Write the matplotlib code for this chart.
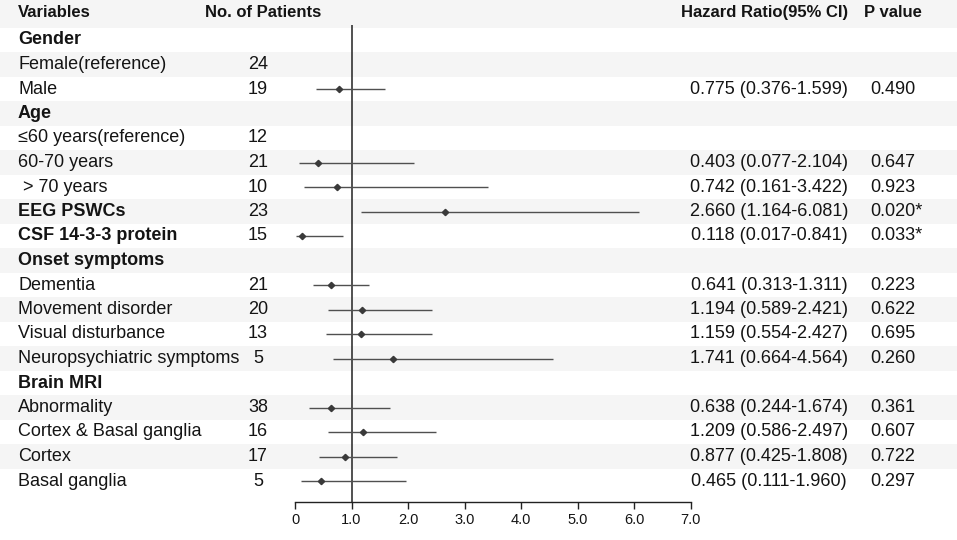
import numpy as np
import matplotlib
matplotlib.use("Agg")
import matplotlib.pyplot as plt

plt.rcParams['font.family'] = ['Liberation Sans', 'DejaVu Sans']

# Rows of the table (group headers have no count / estimate)
labels = ['Gender', 'Female(reference)', 'Male',
          'Age', '\u226460 years(reference)', '60-70 years', ' > 70 years',
          'EEG PSWCs', 'CSF 14-3-3 protein',
          'Onset symptoms', 'Dementia', 'Movement disorder', 'Visual disturbance',
          'Neuropsychiatric symptoms',
          'Brain MRI', 'Abnormality', 'Cortex & Basal ganglia', 'Cortex', 'Basal ganglia']
bold = [True, False, False,
        True, False, False, False,
        True, True,
        True, False, False, False, False,
        True, False, False, False, False]
patients = ['', '24', '19', '', '12', '21', '10', '23', '15', '',
            '21', '20', '13', '5', '', '38', '16', '17', '5']
hr = [np.nan, np.nan, 0.775, np.nan, np.nan, 0.403, 0.742, 2.660, 0.118, np.nan,
      0.641, 1.194, 1.159, 1.741, np.nan, 0.638, 1.209, 0.877, 0.465]
lo = [np.nan, np.nan, 0.376, np.nan, np.nan, 0.077, 0.161, 1.164, 0.017, np.nan,
      0.313, 0.589, 0.554, 0.664, np.nan, 0.244, 0.586, 0.425, 0.111]
hi = [np.nan, np.nan, 1.599, np.nan, np.nan, 2.104, 3.422, 6.081, 0.841, np.nan,
      1.311, 2.421, 2.427, 4.564, np.nan, 1.674, 2.497, 1.808, 1.960]
pvals = ['', '', '0.490', '', '', '0.647', '0.923', '0.020*', '0.033*', '',
         '0.223', '0.622', '0.695', '0.260', '', '0.361', '0.607', '0.722', '0.297']
xticks = [0, 1, 2, 3, 4, 5, 6, 7]
xticklabels = ['0', '1.0', '2.0', '3.0', '4.0', '5.0', '6.0', '7.0']

W, H = 957, 540
row0, rowh = 15.5, 24.5          # pixel centre of row 0 and row height
def px2row(p):
    return (p - row0) / rowh

fig = plt.figure(figsize=(W / 100, H / 100), dpi=100)

# background axes: whole figure, x in pixels, y in rows
bg = fig.add_axes([0, 0, 1, 1])
bg.set_xlim(0, W)
bg.set_ylim(px2row(H), px2row(0))
bg.axis('off')

nrows = len(labels) + 1
for r in range(0, nrows, 2):
    top = r - 0.5 if r > 0 else px2row(0)
    bg.axhspan(top, r + 0.5, color='#f5f5f5', lw=0, zorder=0)

tc = '#141414'
hdr = dict(fontsize=12, fontweight='bold', color=tc, va='center')
bg.text(18, px2row(12.5), 'Variables', ha='left', **hdr)
bg.text(263, px2row(12.5), 'No. of Patients', ha='center', **hdr)
bg.text(765, px2row(12.5), 'Hazard Ratio(95% CI)', ha='center', **hdr)
bg.text(893, px2row(12.5), 'P value', ha='center', **hdr)

for i, lab in enumerate(labels):
    r = i + 1
    bg.text(18, r, lab, ha='left', va='center', fontsize=13, color=tc,
            fontweight='bold' if bold[i] else 'normal')
    if patients[i]:
        bg.text(258, r, patients[i], ha='center', va='center', fontsize=13, color=tc)
    if not np.isnan(hr[i]):
        bg.text(769, r, f'{hr[i]:.3f} ({lo[i]:.3f}-{hi[i]:.3f})',
                ha='center', va='center', fontsize=13, color=tc)
        bg.text(870, r, pvals[i], ha='left', va='center', fontsize=13, color=tc)

# forest axes
x0, x7 = 295, 690.7
ytop, ybot = 25, 502
ax = fig.add_axes([x0 / W, 1 - ybot / H, (x7 - x0) / W, (ybot - ytop) / H])
ax.patch.set_alpha(0)
ax.set_xlim(0, 7)
ax.set_ylim(px2row(ybot), px2row(ytop))
for s in ['top', 'right', 'left']:
    ax.spines[s].set_visible(False)
ax.spines['bottom'].set_linewidth(1.0)
ax.spines['bottom'].set_color('#222222')
ax.set_yticks([])
ax.set_xticks(xticks)
ax.set_xticklabels(xticklabels, fontsize=10.5, color=tc)
ax.tick_params(axis='x', length=5, width=1, color='#222222', pad=3)

ax.axvline(1, color='#222222', lw=1.1, zorder=2)

rows = np.arange(1, len(labels) + 1)
hr_a, lo_a, hi_a = np.array(hr), np.array(lo), np.array(hi)
ok = ~np.isnan(hr_a)
ax.hlines(rows[ok], lo_a[ok], hi_a[ok], color='#505050', lw=1.0, zorder=3)
ax.plot(hr_a[ok], rows[ok], 'D', color='#3a3a3a', markersize=3.2, zorder=4)

fig.savefig('out.png', dpi=100)
